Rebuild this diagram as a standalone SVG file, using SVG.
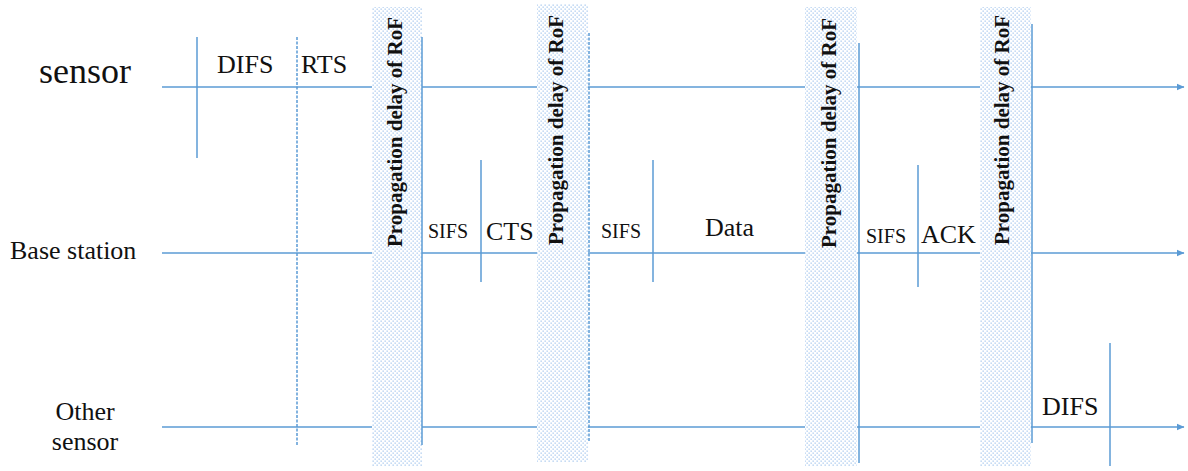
<svg xmlns="http://www.w3.org/2000/svg" width="1188" height="471" viewBox="0 0 1188 471">
<style>
.ln{stroke:#5b9bd5;stroke-width:1.5;fill:none}
.dash{stroke-dasharray:3 1.5}
.bar{fill:url(#dots)}
.lbl{fill:#111}
.rot{font-weight:bold;font-size:21px;fill:#111}
</style>
<defs>
<pattern id="dots" width="4" height="4" patternUnits="userSpaceOnUse">
<rect width="4" height="4" fill="#fff"/>
<rect x="0.5" y="0.5" width="1.3" height="1.3" fill="#a8c9ef"/>
<rect x="2.5" y="2.5" width="1.3" height="1.3" fill="#a8c9ef"/>
</pattern>
<marker id="arr" markerWidth="8" markerHeight="8" refX="7" refY="4" orient="auto" markerUnits="userSpaceOnUse">
<path d="M0,0.8 L7.5,4 L0,7.2 Z" fill="#5b9bd5"/>
</marker>
</defs>
<g id="connectors">
<line class="ln" x1="162" y1="87" x2="1184" y2="87" marker-end="url(#arr)"/>
<line class="ln" x1="162" y1="253" x2="1184" y2="253" marker-end="url(#arr)"/>
<line class="ln" x1="162" y1="427" x2="1184" y2="427" marker-end="url(#arr)"/>
<line class="ln" x1="197" y1="37" x2="197" y2="158"/>
<line class="ln dash" x1="297" y1="37" x2="297" y2="445"/>
<line class="ln" x1="481" y1="160" x2="481" y2="282"/>
<line class="ln" x1="653" y1="160" x2="653" y2="282"/>
<line class="ln" x1="918" y1="165" x2="918" y2="287"/>
<line class="ln" x1="1110" y1="343" x2="1110" y2="466"/>
</g>
<g font-family="'Liberation Serif', 'Times New Roman', 'DejaVu Serif', serif">
<g id="bar1">
<rect class="bar" x="372" y="7" width="50" height="459"/>
<line class="ln" x1="422" y1="37" x2="422" y2="445"/>
<text class="rot" transform="translate(402,247) rotate(-90)">Propagation delay of RoF</text>
</g>
<g id="bar2">
<rect class="bar" x="537" y="4" width="51" height="458"/>
<line class="ln dash" x1="589" y1="33" x2="589" y2="442"/>
<text class="rot" transform="translate(563,245) rotate(-90)">Propagation delay of RoF</text>
</g>
<g id="bar3">
<rect class="bar" x="805" y="7" width="52" height="459"/>
<line class="ln" x1="859" y1="43" x2="859" y2="463"/>
<text class="rot" transform="translate(836,248) rotate(-90)">Propagation delay of RoF</text>
</g>
<g id="bar4">
<rect class="bar" x="980" y="7" width="51" height="459"/>
<line class="ln" x1="1032" y1="24" x2="1032" y2="443"/>
<text class="rot" transform="translate(1009,245) rotate(-90)">Propagation delay of RoF</text>
</g>
<g id="labels">
<text class="lbl" x="39" y="83" font-size="36">sensor</text>
<text class="lbl" x="10" y="259" font-size="26">Base station</text>
<text class="lbl" x="85" y="420" font-size="26" text-anchor="middle">Other</text>
<text class="lbl" x="85" y="450" font-size="26" text-anchor="middle">sensor</text>
<text class="lbl" x="217" y="73" font-size="26">DIFS</text>
<text class="lbl" x="301" y="73" font-size="26">RTS</text>
<text class="lbl" x="428" y="238" font-size="20">SIFS</text>
<text class="lbl" x="486" y="240" font-size="26">CTS</text>
<text class="lbl" x="601" y="238" font-size="20">SIFS</text>
<text class="lbl" x="705" y="236" font-size="26">Data</text>
<text class="lbl" x="866" y="243" font-size="20">SIFS</text>
<text class="lbl" x="921" y="243" font-size="26">ACK</text>
<text class="lbl" x="1042" y="415" font-size="26">DIFS</text>
</g>
</g>
</svg>
